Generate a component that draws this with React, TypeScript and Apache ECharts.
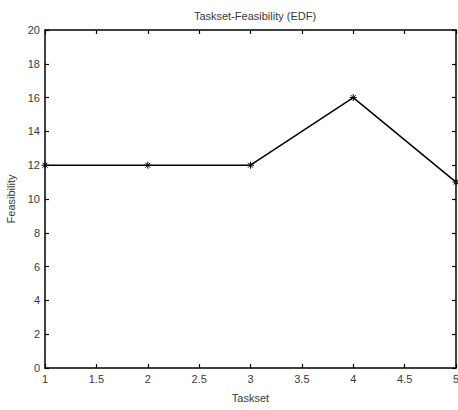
import React, { useEffect, useRef } from "react";
import * as echarts from "echarts";

const tasksets = [1, 2, 3, 4, 5];
const feasibility = [12, 12, 12, 16, 11];
const titleText = "Taskset-Feasibility (EDF)";
const xName = "Taskset";
const yName = "Feasibility";

const font = "Liberation Sans, Arial, sans-serif";
const textColor = "#3a3a3a";

export default function App() {
  const ref = useRef<HTMLDivElement>(null);
  useEffect(() => {
    const chart = echarts.init(ref.current!, undefined, { renderer: "svg" });
    const axisCommon = {
      axisLine: { show: true, onZero: false, lineStyle: { color: "#000", width: 1.5 } },
      axisTick: { show: true, inside: true, length: 4, lineStyle: { color: "#000", width: 1.2 } },
      splitLine: { show: false },
    };
    chart.setOption({
      animation: false,
      backgroundColor: "#fff",
      title: {
        text: titleText,
        left: 250,
        textAlign: "center",
        top: 5,
        textStyle: { fontFamily: font, fontSize: 11, fontWeight: "normal", color: textColor },
      },
      grid: { left: 45, right: 2, top: 30, bottom: 42, containLabel: false, outerBoundsMode: "none" },
      xAxis: [
        {
          type: "value",
          min: 1,
          max: 5,
          interval: 0.5,
          position: "bottom",
          name: xName,
          nameLocation: "middle",
          nameGap: 24,
          nameTextStyle: { fontFamily: font, fontSize: 11, color: textColor },
          axisLabel: { fontFamily: font, fontSize: 11, color: textColor, margin: 5 },
          ...axisCommon,
        },
        {
          type: "value",
          min: 1,
          max: 5,
          interval: 0.5,
          position: "top",
          axisLabel: { show: false },
          ...axisCommon,
        },
      ],
      yAxis: [
        {
          type: "value",
          min: 0,
          max: 20,
          interval: 2,
          position: "left",
          name: yName,
          nameLocation: "middle",
          nameGap: 28,
          nameTextStyle: { fontFamily: font, fontSize: 11, color: textColor },
          axisLabel: { fontFamily: font, fontSize: 11, color: textColor, margin: 5 },
          ...axisCommon,
        },
        {
          type: "value",
          min: 0,
          max: 20,
          interval: 2,
          position: "right",
          axisLabel: { show: false },
          ...axisCommon,
        },
      ],
      series: [
        {
          type: "line",
          data: tasksets.map((t, i) => [t, feasibility[i]]),
          lineStyle: { color: "#000", width: 1.5 },
          itemStyle: { color: "#000", borderColor: "#000", borderWidth: 1 },
          symbol: "path://M5,0 L5,10 M0,5 L10,5 M1.5,1.5 L8.5,8.5 M8.5,1.5 L1.5,8.5",
          symbolSize: 7,
          clip: false,
        },
      ],
    });
    return () => chart.dispose();
  }, []);
  return <div ref={ref} style={{ width: 458, height: 410, position: "absolute", left: 0, top: 0 }} />;
}
